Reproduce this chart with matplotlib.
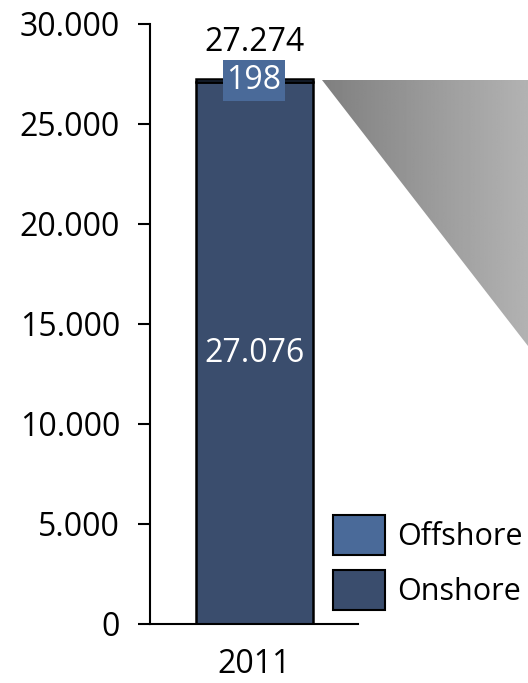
import numpy as np
import matplotlib
matplotlib.use('Agg')
import matplotlib.pyplot as plt
from matplotlib.patches import Polygon, Patch
from matplotlib.ticker import FuncFormatter

plt.rcParams['font.family'] = ['Open Sans', 'DejaVu Sans']

# data
years = ['2011']
onshore = [27076]
offshore = [198]
total = [27274]
yticks = [0, 5000, 10000, 15000, 20000, 25000, 30000]

c_on = '#3a4d6d'
c_off = '#4a6a99'
fs = 23

W, H = 528, 683
fig = plt.figure(figsize=(W / 100, H / 100), dpi=100)
ax = fig.add_axes([150 / W, 59 / H, 208 / W, 600 / H])

x = np.arange(len(years))
bw = 0.5625
ax.bar(x, onshore, bw, color=c_on, edgecolor='black', linewidth=1.8, label='Onshore', zorder=2)
ax.bar(x, offshore, bw, bottom=onshore, color=c_off, edgecolor='black', linewidth=1.8,
       label='Offshore', zorder=2)

ax.set_xlim(-0.5, 0.5)
ax.set_ylim(0, 30000)
ax.set_yticks(yticks)
ax.yaxis.set_major_formatter(FuncFormatter(lambda v, p: f'{int(v):,}'.replace(',', '.')))
ax.set_xticks(x)
ax.set_xticklabels(years)
ax.tick_params(axis='y', length=8.6, width=1.5, labelsize=fs, pad=13, direction='out')
ax.tick_params(axis='x', length=0, labelsize=fs, pad=17.5)
for s in ['top', 'right']:
    ax.spines[s].set_visible(False)
ax.spines['left'].set_linewidth(1.5)
ax.spines['bottom'].set_linewidth(1.5)

for i in x:
    ax.text(i, onshore[i] / 2, f'{onshore[i]:,}'.replace(',', '.'), ha='center', va='center',
            color='white', fontsize=fs, zorder=3)
    ax.text(i, onshore[i] + offshore[i] / 2, str(offshore[i]), ha='center', va='center',
            color='white', fontsize=fs, zorder=3,
            bbox=dict(boxstyle='square,pad=0.12', facecolor=c_off, edgecolor='none'))
    ax.text(i, total[i] + 1400, f'{total[i]:,}'.replace(',', '.'), ha='center', va='baseline',
            color='black', fontsize=fs, zorder=3)

# legend (Offshore on top)
handles = [Patch(facecolor=c_off, edgecolor='black', linewidth=1.5, label='Offshore'),
           Patch(facecolor=c_on, edgecolor='black', linewidth=1.5, label='Onshore')]
fig.legend(handles=handles, loc='lower left', bbox_to_anchor=(333 / W, 73 / H),
           frameon=False, fontsize=22, handlelength=1.70, handleheight=1.64,
           handletextpad=0.40, labelspacing=0.49, borderpad=0, borderaxespad=0)

# gray gradient callout shape
ov = fig.add_axes([0, 0, 1, 1], zorder=0)
ov.set_xlim(0, W)
ov.set_ylim(H, 0)
ov.axis('off')
ov.patch.set_visible(False)
grad = np.linspace(0.50, 0.70, 256)[None, :]
im = ov.imshow(grad, cmap='gray', vmin=0, vmax=1, extent=[322, 528, 346, 80], aspect='auto')
poly = Polygon([[322, 80], [528, 80], [528, 346]], closed=True, transform=ov.transData,
               facecolor='none', edgecolor='none')
ov.add_patch(poly)
im.set_clip_path(poly)

fig.savefig('out.png', dpi=100)
